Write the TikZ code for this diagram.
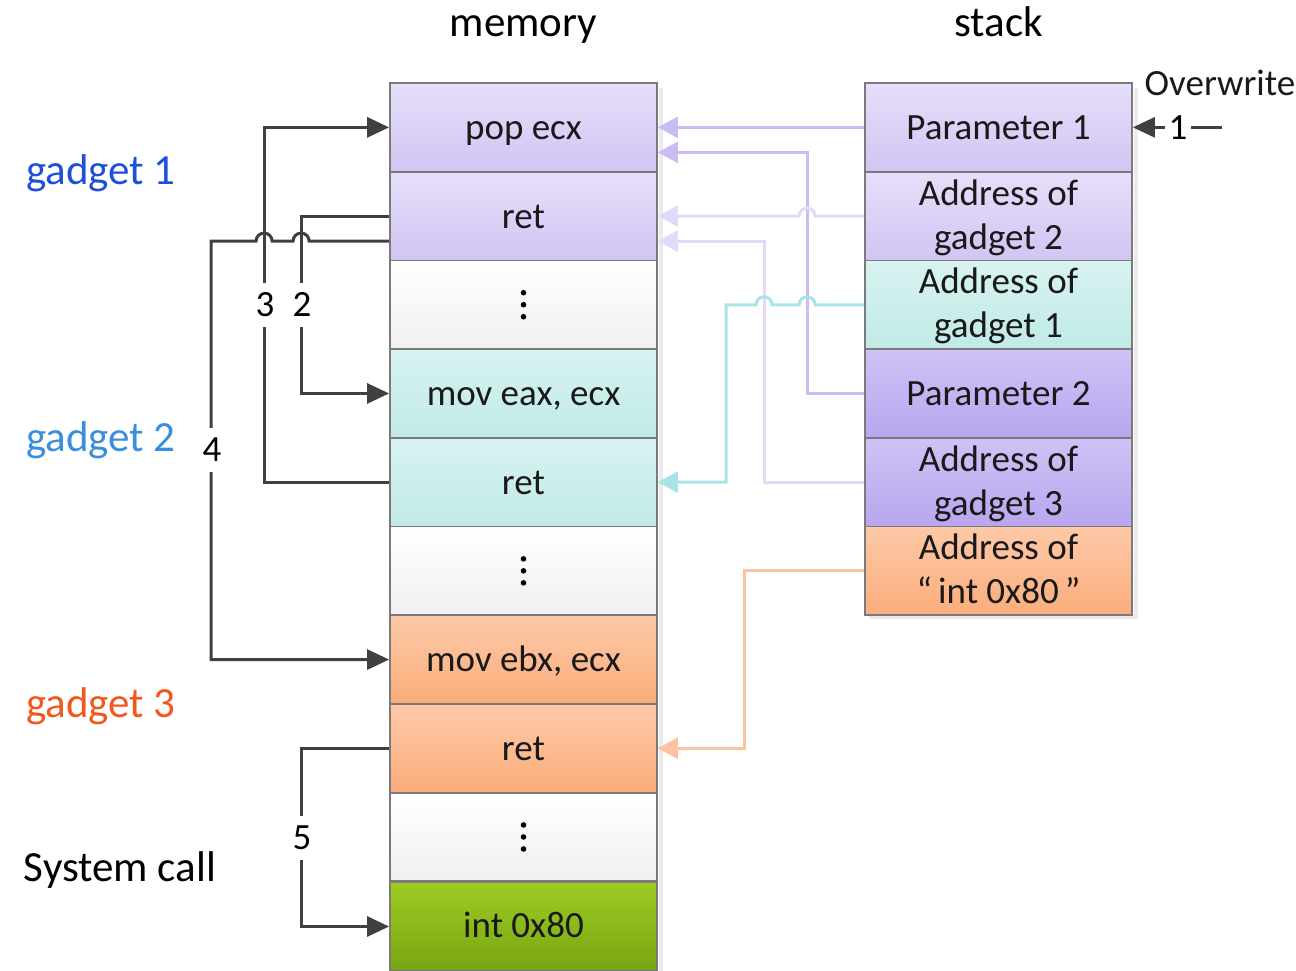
\documentclass[tikz,border=0pt]{standalone}
\usepackage{fontspec}
\setmainfont{Carlito}
\usetikzlibrary{arrows.meta,calc}

% cell fills (top / bottom of the vertical gradient)
\definecolor{lavTop}{HTML}{E6DEFA}
\definecolor{lavBot}{HTML}{D2C5F3}
\definecolor{lvdTop}{HTML}{D0C2F6}
\definecolor{lvdBot}{HTML}{B9A6EF}
\definecolor{tealTop}{HTML}{D7F3F1}
\definecolor{tealBot}{HTML}{C0EAE6}
\definecolor{orTop}{HTML}{FDC9A8}
\definecolor{orBot}{HTML}{FBAD7B}
\definecolor{grTop}{HTML}{9DCD22}
\definecolor{grBot}{HTML}{77A413}
\definecolor{whTop}{HTML}{FFFFFF}
\definecolor{whBot}{HTML}{F0F0F0}
\definecolor{cellborder}{HTML}{7A7A7A}
% connector colours
\definecolor{dkline}{HTML}{404040}
\definecolor{lavA}{HTML}{CBBDF4}
\definecolor{lavB}{HTML}{E3DAF9}
\definecolor{tealC}{HTML}{A8E3E6}
\definecolor{orC}{HTML}{FBC3A2}
% label colours
\definecolor{gOne}{HTML}{1F4FD9}
\definecolor{gTwo}{HTML}{3A8EDB}
\definecolor{gThree}{HTML}{F2581E}

% text of a cell: one line, or two lines
\newcommand{\cellone}[2]{\node[celltxt] (#1-t) at ($(#1.center)+(0,12)$) {#2};}
\newcommand{\celltwo}[3]{%
  \node[celltxt] (#1-ta) at ($(#1.center)+(0,-11)$) {#2};
  \node[celltxt] (#1-tb) at ($(#1.center)+(0,33)$) {#3};}

\begin{document}
\begin{tikzpicture}[x=1pt,y=-1pt,
  cell/.style={draw=cellborder, line width=1.8pt, minimum width=267pt,
    minimum height=88.7pt, inner sep=0pt},
  celltxt/.style={anchor=base, inner sep=0pt, font=\fontsize{37}{45}\selectfont, text=black!90},
  lav/.style={top color=lavTop, bottom color=lavBot},
  lvd/.style={top color=lvdTop, bottom color=lvdBot},
  teal/.style={top color=tealTop, bottom color=tealBot},
  orng/.style={top color=orTop, bottom color=orBot},
  grn/.style={top color=grTop, bottom color=grBot},
  blank/.style={top color=whTop, bottom color=whBot},
  heading/.style={font=\fontsize{43}{50}\selectfont, inner sep=0pt, anchor=base},
  num/.style={font=\fontsize{37}{44}\selectfont, fill=white, inner xsep=4pt,
    inner ysep=10pt, text=black},
  dk/.style={draw=dkline, line width=3pt, -{Triangle[length=22pt,width=20pt]}},
  clr/.style={line width=3pt, -{Triangle[length=20pt,width=21pt]}},
  hop/.style={start angle=0, end angle=180, radius=8pt},
]
\useasboundingbox (0,0) rectangle (1296,970);

% soft shadows on the right of both columns
\fill[black!8] (659,88) rectangle (663,975);
\fill[black!8] (1134,88) rectangle (1138,618);
\fill[black!8] (869,615) rectangle (1138,619);

% memory column
\node[cell, lav]   (m1)  at (523.5,127.35) {};
\node[cell, lav]   (m2)  at (523.5,216.05) {};
\node[cell, blank] (m3)  at (523.5,304.75) {};
\node[cell, teal]  (m4)  at (523.5,393.45) {};
\node[cell, teal]  (m5)  at (523.5,482.15) {};
\node[cell, blank] (m6)  at (523.5,570.85) {};
\node[cell, orng]  (m7)  at (523.5,659.55) {};
\node[cell, orng]  (m8)  at (523.5,748.25) {};
\node[cell, blank] (m9)  at (523.5,836.95) {};
\node[cell, grn]   (m10) at (523.5,926.5) {};
\cellone{m1}{pop ecx}
\cellone{m2}{ret}
\cellone{m4}{mov eax, ecx}
\cellone{m5}{ret}
\cellone{m7}{mov ebx, ecx}
\cellone{m8}{ret}
\node[celltxt] (m10-t) at ($(m10.center)+(0,11)$) {int 0x80};

% vertical ellipses in the gap cells
\foreach \c in {m3,m6,m9}{
  \foreach \d in {-12,0,12}
    \fill[black] ($(\c.center)+(0,\d)$) circle[radius=2.8pt];
}

% stack column
\node[cell, lav]  (s1) at (998.5,127.35) {};
\node[cell, lav]  (s2) at (998.5,216.05) {};
\node[cell, teal] (s3) at (998.5,304.75) {};
\node[cell, lvd]  (s4) at (998.5,393.45) {};
\node[cell, lvd]  (s5) at (998.5,482.15) {};
\node[cell, orng] (s6) at (998.5,570.85) {};
\cellone{s1}{Parameter 1}
\celltwo{s2}{Address of}{gadget 2}
\celltwo{s3}{Address of}{gadget 1}
\cellone{s4}{Parameter 2}
\celltwo{s5}{Address of}{gadget 3}
\celltwo{s6}{Address of}{``\,int 0x80\,''}

% headings and side labels
\node[heading] (hmem) at (523.5,36) {memory};
\node[heading] (hstk) at (998.5,36) {stack};
\node[heading, text=gOne]   (g1) at (101,184) {gadget 1};
\node[heading, text=gTwo]   (g2) at (101,451) {gadget 2};
\node[heading, text=gThree] (g3) at (101,717) {gadget 3};
\node[heading] (sc) at (120,881) {System call};
\node[celltxt] (ow) at (1220,95) {Overwrite};

% stack entries feeding the memory column
\draw[clr, draw=lavA] (s1.west) -- (m1.east);
\draw[clr, draw=lavA] (s4.west) -- ++(-57,0) |- ($(m1.east)+(0,25)$);
\draw[clr, draw=lavB] (s5.west) -- ++(-100,0) |- ($(m2.east)+(0,25)$);
\draw[clr, draw=lavB] (s2.west) -- ++(-49,0) arc[hop] -- (m2.east);
\draw[clr, draw=tealC] (s3.west) -- ++(-49,0) arc[hop] -- ++(-27,0)
   arc[hop] -- ++(-30,0) |- (m5.east);
\draw[clr, draw=orC] (s6.west) -- ++(-120,0) |- (m8.east);

% control flow between gadgets
\draw[dk] (m5.west) -- ++(-125,0) |- (m1.west);
\draw[dk] (m2.west) -- ++(-88,0) |- (m4.west);
\draw[dk] ($(m2.west)+(0,25)$) -- ++(-80,0) arc[hop] -- ++(-21,0)
   arc[hop] -- ++(-45,0) |- (m7.west);
\draw[dk] (m8.west) -- ++(-88,0) |- (m10.west);

\coordinate (owend) at (1222,127.35);
\draw[dk] (owend) -- (s1.east);

% step numbers on the connectors
\node[num] (n1) at (1178,127.35) {1};
\node[num] (n2) at (302,304.75) {2};
\node[num] (n3) at (265,304.75) {3};
\node[num] (n4) at (212,450) {4};
\node[num] (n5) at (302,838) {5};
\end{tikzpicture}
\end{document}
